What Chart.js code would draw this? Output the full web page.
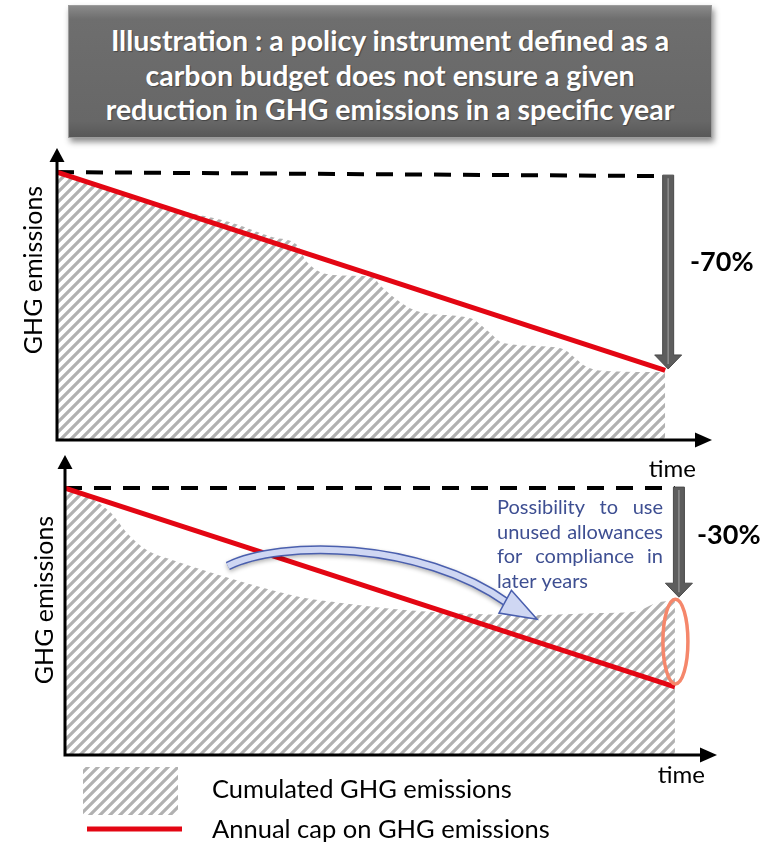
<!DOCTYPE html>
<html>
<head>
<meta charset="utf-8">
<script src="https://cdn.jsdelivr.net/npm/chart.js@4.4.1/dist/chart.umd.min.js"></script>
<style>
  html, body { margin: 0; padding: 0; background: #fff; }
  body { width: 760px; height: 843px; position: relative; overflow: hidden; font-family: Lato, "Open Sans", sans-serif; }
  #title {
    position: absolute; left: 68px; top: 5px; width: 644px; height: 133px;
    box-sizing: border-box; padding-top: 17px;
    background: linear-gradient(to bottom, #8a8a8a 0%, #6e6e6e 10%, #676767 88%, #585858 100%);
    border: 1px solid #9c9c9c;
    box-shadow: 2px 4px 6px rgba(0,0,0,0.45);
    color: #fff; font-weight: bold; font-size: 28.5px; line-height: 34.5px; text-align: center;
    text-shadow: 1px 1px 1px rgba(0,0,0,0.35);
  }
  canvas { position: absolute; left: 0; }
</style>
</head>
<body>
<div id="title">Illustration : a policy instrument defined as a<br>carbon budget does not ensure a given<br>reduction in GHG emissions in a specific year</div>
<canvas id="topChart" width="760" height="345" style="top:140px"></canvas>
<canvas id="bottomChart" width="760" height="398" style="top:445px"></canvas>
<script>
// ── Data (time and emissions in relative units, start = 100) ──
const timeTop    = [0, 8.7, 19.1, 28.5, 35.5, 39.5, 41.1, 45.4, 52, 53.1, 59.7, 67.9, 70.7, 73.4, 82.7, 87.2, 91, 100];
const emisTop    = [100, 94, 86.2, 81.3, 75.7, 72.8, 66.4, 61.6, 60.8, 57.8, 47.8, 45.5, 41, 36.2, 34.3, 27.2, 25.7, 25.4];
const timeBottom = [0, 4.1, 7.4, 10.2, 13.4, 17.7, 22.6, 32, 38.5, 45.6, 51.1, 60.3, 76.7, 87.7, 93.1, 97.5, 100];
const emisBottom = [100, 96.3, 91, 83.1, 76.8, 73, 69.3, 62.9, 59.2, 56.9, 55.4, 53.6, 52.4, 53.2, 53.6, 57.3, 58];

const capTime    = [0, 100];
const capTop     = [100, 26];
const capBottom  = [100, 25.5];
const baseTop    = [100, 98.5];
const baseBottom = [100, 100];

const reductionLabels = ['-70%', '-30%'];
const noteLines    = ['Possibility to use', 'unused allowances', 'for compliance in', 'later years'];
const legendLabels = ['Cumulated GHG emissions', 'Annual cap on GHG emissions'];
const axisTitle    = 'GHG emissions';
const timeTitle    = 'time';
// curved "reuse" arrow: tail, 2 control points, end of band, tip (data units)
const reuseArrow   = [[26.7, 70.8], [35.2, 80.5], [58.2, 80.5], [72.6, 56.9], [77.4, 50.9]];

const FONT = 'Lato, "Open Sans", sans-serif';
Chart.defaults.font.family = FONT;

const pts = (xs, ys) => xs.map((x, i) => ({ x: x, y: ys[i] }));

// ── Hatch pattern ─────────────────────────────────────────────
function makeHatch() {
  const c = document.createElement('canvas');
  c.width = c.height = 10;
  const g = c.getContext('2d');
  g.strokeStyle = '#b1b1b1';
  g.lineWidth = 3.2;
  g.beginPath();
  g.moveTo(-1, 11); g.lineTo(11, -1);
  g.moveTo(-2, 2);  g.lineTo(2, -2);
  g.moveTo(8, 12);  g.lineTo(12, 8);
  g.stroke();
  return g.createPattern(c, 'repeat');
}
const hatch = makeHatch();

// ── Drawing helpers ───────────────────────────────────────────
function drawAxes(ctx, a) {
  ctx.strokeStyle = '#000'; ctx.fillStyle = '#000'; ctx.lineWidth = 3;
  ctx.beginPath();
  ctx.moveTo(a.left, a.bottom); ctx.lineTo(a.left, a.top + 12);
  ctx.moveTo(a.left - 1.5, a.bottom); ctx.lineTo(a.right - 14, a.bottom);
  ctx.stroke();
  ctx.beginPath();
  ctx.moveTo(a.left, a.top); ctx.lineTo(a.left - 7.5, a.top + 14); ctx.lineTo(a.left + 7.5, a.top + 14);
  ctx.closePath(); ctx.fill();
  ctx.beginPath();
  ctx.moveTo(a.right, a.bottom); ctx.lineTo(a.right - 17, a.bottom - 7.5); ctx.lineTo(a.right - 17, a.bottom + 7.5);
  ctx.closePath(); ctx.fill();
}

function drawDrop(ctx, x, y0, y1) {
  const sw = 11, hw = 27, hh = 14;
  ctx.fillStyle = '#5d5d5d'; ctx.strokeStyle = '#4a4a4a'; ctx.lineWidth = 1;
  ctx.beginPath();
  ctx.moveTo(x - sw / 2, y0); ctx.lineTo(x + sw / 2, y0); ctx.lineTo(x + sw / 2, y1 - hh);
  ctx.lineTo(x + hw / 2, y1 - hh); ctx.lineTo(x, y1); ctx.lineTo(x - hw / 2, y1 - hh);
  ctx.lineTo(x - sw / 2, y1 - hh); ctx.closePath();
  ctx.fill(); ctx.stroke();
  ctx.strokeStyle = '#8e8e8e'; ctx.lineWidth = 1.5;
  ctx.beginPath(); ctx.moveTo(x, y0 + 3); ctx.lineTo(x, y1 - 5); ctx.stroke();
}

function justify(ctx, line, left, right, yb, last) {
  const words = line.split(' ');
  ctx.textAlign = 'left';
  if (last || words.length < 2) { ctx.fillText(line, left, yb); return; }
  const total = words.reduce((s, w) => s + ctx.measureText(w).width, 0);
  const gap = (right - left - total) / (words.length - 1);
  let x = left;
  words.forEach(w => { ctx.fillText(w, x, yb); x += ctx.measureText(w).width + gap; });
}

// ── Decoration plugin (axes, arrows, labels) ─────────────────
function decoPlugin(d) {
  return {
    id: 'deco',
    afterDatasetsDraw(chart) {
      const ctx = chart.ctx, xs = chart.scales.x, ys = chart.scales.y, a = chart.chartArea;
      const off = d.offset;
      ctx.save();
      drawAxes(ctx, a);

      // y axis title
      ctx.save();
      ctx.translate(d.yLabel[0], d.yLabel[1] - off);
      ctx.rotate(-Math.PI / 2);
      ctx.fillStyle = '#000'; ctx.font = '25px ' + FONT;
      ctx.textAlign = 'center'; ctx.textBaseline = 'alphabetic';
      ctx.fillText(axisTitle, 0, 0);
      ctx.restore();

      // time label
      ctx.fillStyle = '#000'; ctx.font = '24px ' + FONT;
      ctx.textAlign = 'right'; ctx.textBaseline = 'alphabetic';
      ctx.fillText(timeTitle, d.timePos[0], d.timePos[1] - off);

      // reduction arrow + label
      const last = d.emis.length - 1;
      const ax = xs.getPixelForValue(100) + d.dropShift;
      drawDrop(ctx, ax, ys.getPixelForValue(d.base[1]) - 1, ys.getPixelForValue(d.emis[last]) - 3);
      ctx.fillStyle = '#000'; ctx.font = 'bold 27px ' + FONT;
      ctx.textAlign = 'left'; ctx.textBaseline = 'middle';
      ctx.fillText(d.pct, d.pctPos[0], d.pctPos[1] - off);

      if (d.note) {
        // ellipse around final year
        const yE = ys.getPixelForValue(d.emis[last]), yC = ys.getPixelForValue(d.cap[1]);
        ctx.strokeStyle = '#f5876b'; ctx.lineWidth = 3.5;
        ctx.beginPath();
        ctx.ellipse(xs.getPixelForValue(100) + 0.5, (yE + yC) / 2 - 2, 12.5, (yC - yE) / 2 - 1, 0, 0, Math.PI * 2);
        ctx.stroke();

        // curved arrow
        const P = reuseArrow.map(p => [xs.getPixelForValue(p[0]), ys.getPixelForValue(p[1])]);
        ctx.save();
        ctx.shadowColor = 'rgba(0,0,0,0.3)'; ctx.shadowBlur = 4; ctx.shadowOffsetY = 2;
        ctx.lineCap = 'butt';
        ctx.beginPath();
        ctx.moveTo(P[0][0], P[0][1]);
        ctx.bezierCurveTo(P[1][0], P[1][1], P[2][0], P[2][1], P[3][0], P[3][1]);
        ctx.strokeStyle = '#4a5fae'; ctx.lineWidth = 9; ctx.stroke();
        ctx.restore();
        ctx.beginPath();
        ctx.moveTo(P[0][0], P[0][1]);
        ctx.bezierCurveTo(P[1][0], P[1][1], P[2][0], P[2][1], P[3][0], P[3][1]);
        ctx.strokeStyle = '#cfd7f3'; ctx.lineWidth = 6; ctx.stroke();
        const dx = P[4][0] - P[3][0], dy = P[4][1] - P[3][1], len = Math.hypot(dx, dy);
        const nx = -dy / len * 13, ny = dx / len * 13;
        const bx = P[3][0] - dx / len * 3, by = P[3][1] - dy / len * 3;
        ctx.beginPath();
        ctx.moveTo(P[4][0], P[4][1]);
        ctx.lineTo(bx + nx, by + ny); ctx.lineTo(bx - nx, by - ny);
        ctx.closePath();
        ctx.fillStyle = '#cfd7f3'; ctx.fill();
        ctx.strokeStyle = '#4a5fae'; ctx.lineWidth = 1.5; ctx.stroke();

        // note text
        ctx.fillStyle = '#3e4f92'; ctx.font = '20px ' + FONT; ctx.textBaseline = 'alphabetic';
        d.note.lines.forEach((l, i) => justify(ctx, l, d.note.left, d.note.right, d.note.base[i] - off, i === d.note.lines.length - 1));
      }

      if (d.legend) {
        const L = d.legend;
        ctx.fillStyle = hatch;
        ctx.fillRect(L.swatch[0], L.swatch[1] - off, L.swatch[2], L.swatch[3]);
        ctx.strokeStyle = '#e30613'; ctx.lineWidth = 5;
        ctx.beginPath(); ctx.moveTo(L.line[0], L.line[2] - off); ctx.lineTo(L.line[1], L.line[2] - off); ctx.stroke();
        ctx.fillStyle = '#000'; ctx.font = '25.5px ' + FONT; ctx.textAlign = 'left'; ctx.textBaseline = 'alphabetic';
        legendLabels.forEach((t, i) => ctx.fillText(t, L.textX, L.base[i] - off));
      }
      ctx.restore();
    }
  };
}

// ── Chart factory ─────────────────────────────────────────────
function makeChart(id, d) {
  return new Chart(document.getElementById(id), {
    type: 'line',
    data: {
      datasets: [
        { data: pts(capTime, d.cap), borderColor: '#e30613', borderWidth: 5, pointRadius: 0, fill: false },
        { data: pts(capTime, d.base), borderColor: '#000', borderWidth: 4, borderDash: [17, 12], pointRadius: 0, fill: false },
        { data: pts(d.time, d.emis), borderColor: 'rgba(0,0,0,0)', borderWidth: 1, pointRadius: 0,
          fill: 'origin', backgroundColor: hatch, cubicInterpolationMode: 'monotone' }
      ]
    },
    options: {
      responsive: false,
      animation: false,
      devicePixelRatio: 1,
      layout: { padding: d.pad },
      scales: {
        x: { type: 'linear', display: false, min: 0, max: d.xMax },
        y: { display: false, min: 0, max: d.yMax }
      },
      plugins: { legend: { display: false }, tooltip: { enabled: false } }
    },
    plugins: [decoPlugin(d)]
  });
}

// ── Top: hard cap, -70% ──
makeChart('topChart', {
  offset: 140,
  time: timeTop, emis: emisTop, cap: capTop, base: baseTop,
  pad: { left: 57, right: 48, top: 8, bottom: 45 },
  xMax: 107.7, yMax: 109,
  yLabel: [42, 270], timePos: [696, 477], pct: reductionLabels[0], pctPos: [690, 262], dropShift: 3
});

// ── Bottom: carbon budget, -30% ──
makeChart('bottomChart', {
  offset: 445,
  time: timeBottom, emis: emisBottom, cap: capBottom, base: baseBottom,
  pad: { left: 65, right: 43, top: 10, bottom: 88 },
  xMax: 106.9, yMax: 112.4,
  yLabel: [53, 600], timePos: [705, 783], pct: reductionLabels[1], pctPos: [697, 535], dropShift: 4,
  note: { lines: noteLines, left: 497, right: 663, base: [514, 538.5, 563, 588] },
  legend: { swatch: [83, 767, 95, 48], line: [87, 182, 829], textX: 212, base: [798, 838] }
});
</script>
</body>
</html>
